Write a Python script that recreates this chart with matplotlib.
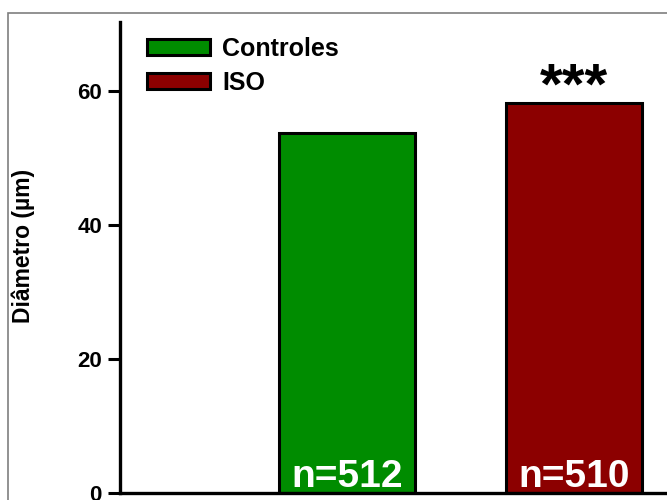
import matplotlib.pyplot as plt
from matplotlib.patches import Rectangle

plt.rcParams['font.family'] = ['Liberation Sans', 'DejaVu Sans']
plt.rcParams['font.weight'] = 'bold'

grupos = ['Controles', 'ISO']
diametro = [53.7, 58.2]
n_celulas = [512, 510]
cores = ['#008c00', '#8c0000']
posicoes = [1, 2]

fig = plt.figure(figsize=(6.67, 5), dpi=100)
fig.patches.append(Rectangle((8 / 667, -0.1), 1.2, 1.1 - 13 / 500,
                             transform=fig.transFigure, fill=False,
                             edgecolor='#7f7f7f', linewidth=1.2))

ax = fig.add_axes([120 / 667, 7 / 500, 567.5 / 667, 471 / 500])
barras = ax.bar(posicoes, diametro, width=0.6, color=cores,
                edgecolor='black', linewidth=2.2, label=grupos, zorder=2)

for x, n in zip(posicoes, n_celulas):
    ax.text(x, 0.9, f'n={n}', color='white', fontsize=28,
            fontweight='bold', ha='center', va='baseline')

ax.text(posicoes[1], diametro[1] - 0.1, '***', fontsize=42,
        fontweight='bold', ha='center', va='baseline')

ax.set_xlim(0, 2.5)
ax.set_ylim(0, 70.3)
ax.set_yticks([0, 20, 40, 60])
ax.set_xticks([])
ax.tick_params(axis='y', direction='out', length=9, width=2.2,
               labelsize=16, pad=4)
for s in ['top', 'right']:
    ax.spines[s].set_visible(False)
for s in ['left', 'bottom']:
    ax.spines[s].set_linewidth(2.4)

ax.set_ylabel('Diâmetro (µm)', fontsize=16.5, fontweight='bold')
ax.yaxis.set_label_coords(-0.149, 0.524)

ax.legend(loc='upper left', bbox_to_anchor=(0.017, 1.006), frameon=False,
          fontsize=18, handlelength=2.5, handleheight=0.6,
          handletextpad=0.5, labelspacing=0.4, borderaxespad=0.3)

fig.savefig('out.png', dpi=100)
